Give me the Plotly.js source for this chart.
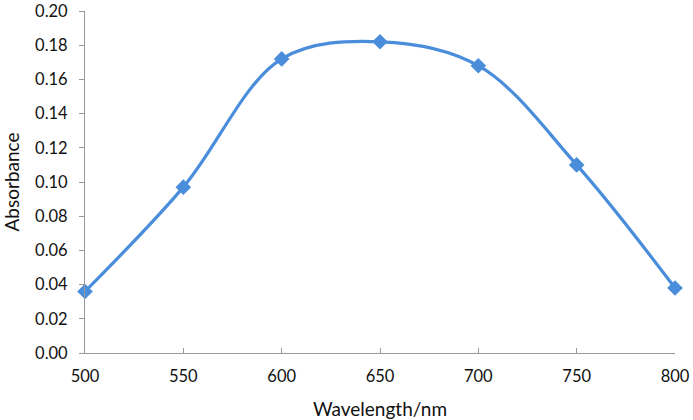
<!DOCTYPE html>
<html>
<head>
<meta charset="utf-8">
<script src="https://cdn.plot.ly/plotly-3.0.1.min.js"></script>
<style>html,body{margin:0;padding:0;background:#fff;}#chart{width:693px;height:420px;}</style>
</head>
<body>
<div id="chart"></div>
<script>
const wavelength = [500, 550, 600, 650, 700, 750, 800];
const absorbance = [0.036, 0.097, 0.172, 0.182, 0.168, 0.110, 0.038];
const yTickVals = [0, 0.02, 0.04, 0.06, 0.08, 0.10, 0.12, 0.14, 0.16, 0.18, 0.20];
const yTickText = ['0.00','0.02','0.04','0.06','0.08','0.10','0.12','0.14','0.16','0.18','0.20'];
const xTickVals = [500, 550, 600, 650, 700, 750, 800];

const font = {family: 'Lato, "Open Sans", sans-serif', size: 16.5, color: '#111'};
const titleFont = {family: 'Lato, "Open Sans", sans-serif', size: 19, color: '#111'};

Plotly.newPlot('chart', [{
  x: wavelength,
  y: absorbance,
  type: 'scatter',
  mode: 'lines+markers',
  line: {color: '#4a8ddb', width: 3.2, shape: 'spline', smoothing: 1},
  marker: {symbol: 'diamond', size: 12, color: '#4a8ddb'},
  cliponaxis: false
}], {
  width: 693, height: 420,
  margin: {l: 85, r: 18, t: 11, b: 67},
  paper_bgcolor: '#fff', plot_bgcolor: '#fff',
  showlegend: false,
  font: font,
  xaxis: {
    range: [500, 800], tickvals: xTickVals, ticktext: xTickVals.map(String),
    showgrid: false, zeroline: false, showline: true, linecolor: '#999', linewidth: 1,
    ticks: 'inside', ticklen: 5, tickcolor: '#999', tickfont: font,
    ticklabelstandoff: 8,
    title: {text: 'Wavelength/nm', font: titleFont, standoff: 18}
  },
  yaxis: {
    range: [0, 0.20], tickvals: yTickVals, ticktext: yTickText,
    showgrid: false, zeroline: false, showline: true, linecolor: '#999', linewidth: 1,
    ticks: 'outside', ticklen: 5, tickcolor: '#999', tickfont: font,
    ticklabelstandoff: 8,
    title: {text: 'Absorbance', font: titleFont, standoff: 12}
  }
}, {displayModeBar: false, staticPlot: true});
</script>
</body>
</html>
